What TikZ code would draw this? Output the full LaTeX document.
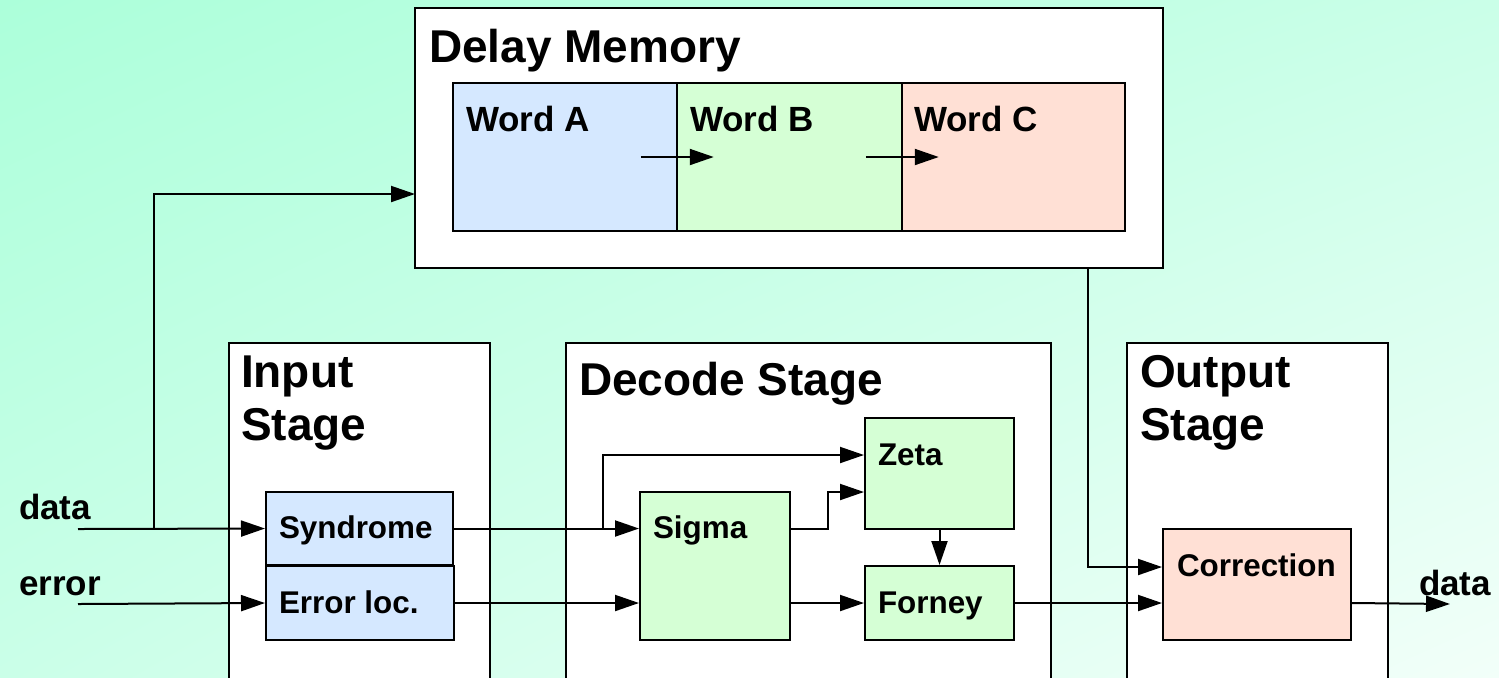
\documentclass[tikz,border=0pt]{standalone}
\usepackage{fontspec}
\setmainfont{Liberation Sans}
\usepackage{tikz}
\usetikzlibrary{arrows.meta,fit,positioning,shadings}

\definecolor{bgA}{RGB}{172,255,218}
\definecolor{bgM}{RGB}{202,255,232}
\definecolor{bgB}{RGB}{242,255,249}
\definecolor{wblue}{RGB}{213,232,255}
\definecolor{wgreen}{RGB}{213,255,213}
\definecolor{wsalmon}{RGB}{255,224,213}

\begin{document}
\begin{tikzpicture}[->,>={Triangle[length=12pt,width=8pt]},x=0.5pt,y=-0.5pt,line width=1pt,
  stage/.style={draw,fill=white,inner sep=0pt},
  word/.style={draw,line width=0.75pt,inner sep=0pt},
  unit/.style={draw,inner sep=0pt},
  big/.style={anchor=base west,inner sep=0pt,font=\fontsize{23}{26.5}\selectfont\bfseries,align=left},
  lbl/.style={anchor=base west,inner sep=0pt,font=\fontsize{15.7}{19}\selectfont\bfseries}]
  \useasboundingbox (0,0) rectangle (1499,677);
  \shade[upper left=bgA,upper right=bgM,lower left=bgM,lower right=bgB] (0,0) rectangle (1499,677);

  % delay memory
  \node[stage,fit={(415,8) (1163,268)}] (mem) {};
  \node[big] (tmem) at (428,62) {Delay Memory};
  \node[word,fill=wblue,fit={(453,83) (677,231)}] (wa) {};
  \node[word,fill=wgreen,fit={(677,83) (902,231)}] (wb) {};
  \node[word,fill=wsalmon,fit={(902,83) (1125,231)}] (wc) {};
  \node[lbl,font=\fontsize{17.5}{20}\selectfont\bfseries] (ta) at (465,131) {Word A};
  \node[lbl,font=\fontsize{17.5}{20}\selectfont\bfseries] (tb) at (689,131) {Word B};
  \node[lbl,font=\fontsize{17.5}{20}\selectfont\bfseries] (tc) at (913,131) {Word C};
  \draw ([xshift=-18.5pt]wa.east) -- ([xshift=18pt]wa.east);
  \draw ([xshift=-18.5pt]wb.east) -- ([xshift=18pt]wb.east);

  % stages
  \node[stage,fit={(229,343) (490,700)}] (inp) {};
  \node[stage,fit={(566,343) (1051,700)}] (dec) {};
  \node[stage,fit={(1127,343) (1388,700)}] (outp) {};
  \node[big] (tinp) at (240,440) {Input\\Stage};
  \node[big] (tdec) at (578,395) {Decode Stage};
  \node[big] (toutp) at (1139,440) {Output\\Stage};

  % units
  \node[unit,fill=wblue,fit={(266,492) (453,565)}] (syn) {};
  \node[unit,fill=wblue,fit={(266,566) (454,640)}] (err) {};
  \node[unit,fill=wgreen,fit={(640,492) (790,640)}] (sig) {};
  \node[unit,fill=wgreen,fit={(865,418) (1014,529)}] (zeta) {};
  \node[unit,fill=wgreen,fit={(865,566) (1014,640)}] (forney) {};
  \node[unit,fill=wsalmon,fit={(1163,529) (1351,640)}] (corr) {};
  \node[lbl] (tsyn) at (278,538) {Syndrome};
  \node[lbl] (terr) at (278,613) {Error loc.};
  \node[lbl] (tsig) at (652,538) {Sigma};
  \node[lbl] (tzeta) at (877,465) {Zeta};
  \node[lbl] (tforney) at (877,613) {Forney};
  \node[lbl] (tcorr) at (1176,576) {Correction};

  % signals
  \node[lbl,font=\fontsize{17.5}{20}\selectfont\bfseries] (tdin) at (18,519) {data};
  \node[lbl,font=\fontsize{17.5}{20}\selectfont\bfseries] (tein) at (18,595) {error};
  \node[lbl,font=\fontsize{17.5}{20}\selectfont\bfseries] (tdout) at (1418,595) {data};
  \coordinate (din) at (78,529);
  \coordinate (ein) at (78,604);
  \coordinate (tap) at (154,529);
  \coordinate (memin) at (415,194);
  \coordinate (memout) at (1088,268);
  \coordinate (tap2) at (603,529);
  \coordinate (dout) at (1450,604);

  \draw (din) -- (syn.west);
  \draw (tap) |- (memin);
  \draw (ein) -- (err.west);
  \draw (syn.east) -- (syn.east -| sig.west);
  \draw (tap2) |- ([yshift=9.25pt]zeta.west);
  \draw (err.east) -- (err.east -| sig.west);
  \draw (syn.east -| sig.east) -- ++(37,0) |- ([yshift=-9.25pt]zeta.west);
  \draw (err.east -| sig.east) -- (forney.west);
  \draw (zeta) -- (forney);
  \draw (forney.east) -- (forney.east -| corr.west);
  \draw (forney.east -| corr.east) -- (dout);
  \draw (memout) |- ([yshift=8.75pt]corr.west);
\end{tikzpicture}
\end{document}
